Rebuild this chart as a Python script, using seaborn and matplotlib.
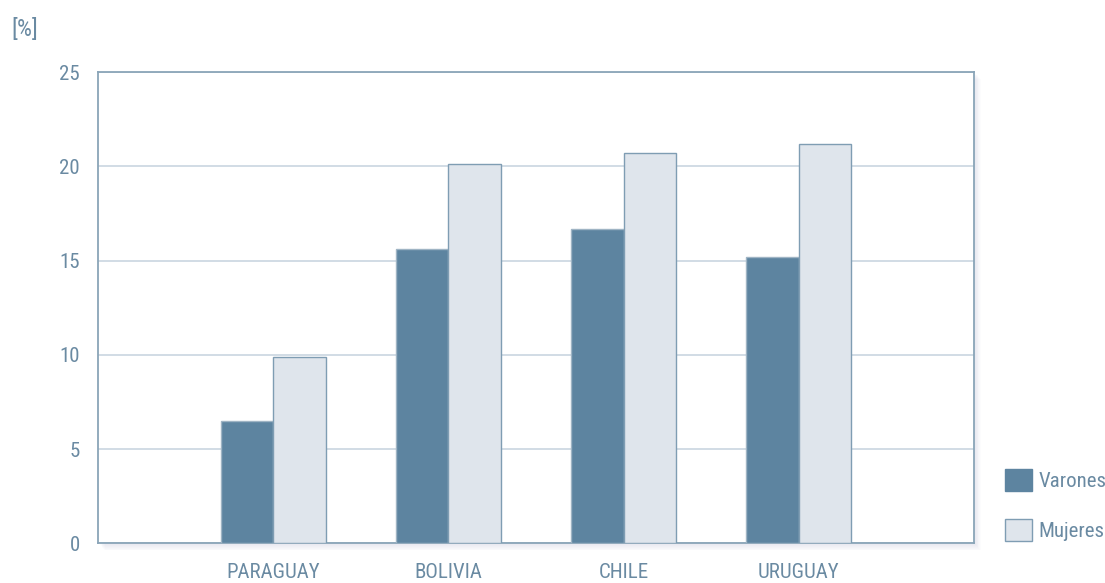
import matplotlib
matplotlib.use("Agg")
import matplotlib.pyplot as plt
from matplotlib import font_manager
from matplotlib.patches import Patch, Rectangle
import seaborn as sns
import pandas as pd

# Data
paises = ["PARAGUAY", "BOLIVIA", "CHILE", "URUGUAY"]
varones = [6.5, 15.6, 16.7, 15.2]
mujeres = [9.9, 20.1, 20.7, 21.2]
series = ["Varones", "Mujeres"]
y_ticks = [0, 5, 10, 15, 20, 25]
unidad = "[%]"

df = pd.DataFrame({
    "pais": paises * 2,
    "valor": varones + mujeres,
    "sexo": [series[0]] * len(paises) + [series[1]] * len(paises),
})

C_DARK = "#5d84a0"
C_LIGHT = "#dfe5ec"
C_EDGE = "#7f9db3"
C_AXIS = "#8aa5b8"
C_GRID = "#c9d6e0"
C_TEXT = "#6a8aa2"

sns.set_theme(style="white")
available = {f.name for f in font_manager.fontManager.ttflist}
family = next((f for f in ["Roboto Condensed", "Liberation Sans Narrow", "Roboto"] if f in available), "DejaVu Sans")
plt.rcParams["font.family"] = [family, "DejaVu Sans"]

fig = plt.figure(figsize=(11.05, 5.83), dpi=100)
ax = fig.add_axes([0.0887, 0.0678, 0.7928, 0.8087])
ax.set_zorder(2)

# soft drop shadow behind the plot area
for i in range(1, 9):
    fig.patches.append(Rectangle((0.0887 + 0.0008 * i, 0.0678 - 0.0015 * i), 0.7928, 0.8087,
                                 transform=fig.transFigure, facecolor="#1e3c5a",
                                 alpha=0.012, edgecolor="none", zorder=-1))

sns.barplot(data=df, x="pais", y="valor", hue="sexo", order=paises, hue_order=series,
            palette=[C_DARK, C_LIGHT], width=0.6, gap=0, saturation=1, ax=ax,
            legend=False, zorder=3)
for cont, ec in zip(ax.containers, ["#9fb4c4", C_EDGE]):
    for bar in cont:
        bar.set_edgecolor(ec)
        bar.set_linewidth(1.0)

ax.set_facecolor("white")
ax.set_xlim(-1, 4)
ax.set_ylim(0, 25)
ax.set_yticks(y_ticks)
ax.set_yticklabels([str(t) for t in y_ticks])
ax.grid(axis="y", color=C_GRID, linewidth=1.2, zorder=0)
ax.set_axisbelow(True)

for s in ax.spines.values():
    s.set_color(C_AXIS)
    s.set_linewidth(1.3)

ax.tick_params(axis="y", length=0, pad=13, labelsize=15, labelcolor=C_TEXT)
ax.tick_params(axis="x", length=5, width=1.2, color=C_AXIS, pad=9, labelsize=15, labelcolor=C_TEXT)
# small outward marks at the frame corners
ax.set_yticks([0, 25], minor=True)
ax.tick_params(axis="y", which="minor", length=6, width=1.3, color=C_AXIS)
ax.set_xticks([-1, 4], minor=True)
ax.tick_params(axis="x", which="minor", length=5, width=1.3, color=C_AXIS)
ax.set_xlabel("")
ax.set_ylabel("")

fig.text(0.010, 0.929, unidad, fontsize=17, color=C_TEXT, ha="left", va="bottom")

handles = [Patch(facecolor=C_DARK, edgecolor=C_DARK), Patch(facecolor=C_LIGHT, edgecolor=C_EDGE)]
fig.legend(handles, series, loc="upper left", bbox_to_anchor=(0.9095, 0.196),
           frameon=False, fontsize=15, labelcolor=C_TEXT, handlelength=1.3,
           handleheight=1.3, handletextpad=0.3, labelspacing=1.3, borderaxespad=0,
           borderpad=0)

fig.savefig("out.png", dpi=100)
